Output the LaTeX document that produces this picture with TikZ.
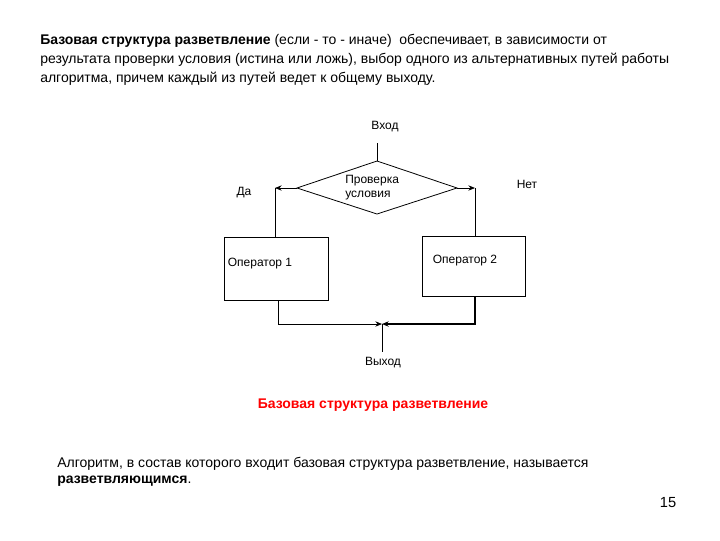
\documentclass[tikz,border=0pt]{standalone}
\usepackage{fontspec}
\setmainfont{Liberation Sans}
\usetikzlibrary{arrows.meta}
\begin{document}
\begin{tikzpicture}[x=0.75pt,y=-0.75pt,
  txt/.style={inner sep=0pt,font=\fontsize{10.5}{12}\selectfont},
  sm/.style={inner sep=0pt,font=\fontsize{9}{10.5}\selectfont},
  box/.style={draw,line width=0.6pt},
  ln/.style={line width=0.6pt},
  arr/.style={ln,-{Stealth[length=5pt,width=4pt]}}]
\useasboundingbox (0,0) rectangle (720,540);
\node[txt,anchor=west] (p1) at (40,41) {\textbf{Базовая структура разветвление} (если - то - иначе)\ \ обеспечивает, в зависимости от};
\node[txt,anchor=west] (p2) at (40,60) {результата проверки условия (истина или ложь), выбор одного из альтернативных путей работы};
\node[txt,anchor=west] (p3) at (40,79) {алгоритма, причем каждый из путей ведет к общему выходу.};
\node[sm] (in) at (385,127) {Вход};
\coordinate (inb) at (377,143);
\coordinate (dt) at (377,161);
\coordinate (db) at (377,214);
\coordinate (dl) at (297,188);
\coordinate (dr) at (457,188);
\draw[ln] (dt) -- (dr) -- (db) -- (dl) -- cycle;
\node[sm,align=left,anchor=west] (cond) at (345,188) {Проверка\\условия};
\draw[ln] (inb) -- (dt);
\coordinate (la) at (275,188);
\coordinate (ra) at (475,188);
\draw[arr] (dl) -- (la);
\draw[arr] (dr) -- (ra);
\node[sm] (yes) at (244,193) {Да};
\node[sm] (no) at (527,184) {Нет};
\draw[box] (224,237) rectangle (328,300);
\node[sm] (op1) at (260,264) {Оператор 1};
\draw[box] (422,236) rectangle (525,296);
\node[sm] (op2) at (465,261) {Оператор 2};
\draw[ln] (275,237) -- (la);
\draw[ln] (475,236) -- (ra);
\coordinate (j) at (382,324);
\draw[arr] (278,300) -- (278,324) -- (j);
\draw[arr,line width=1.2pt] (475,296) -- (475,324) -- (j);
\draw[ln] (j) -- (382,352);
\node[sm] (out) at (383,363) {Выход};
\node[txt,text=red,font=\bfseries\fontsize{10.5}{12}\selectfont] (title) at (373,405) {Базовая структура разветвление};
\node[txt,anchor=west] (b1) at (57,464) {Алгоритм, в состав которого входит базовая структура разветвление, называется};
\node[txt,anchor=west] (b2) at (57,481) {\textbf{разветвляющимся}.};
\node[txt,font=\fontsize{11}{13}\selectfont] (pg) at (668,503) {15};
\end{tikzpicture}
\end{document}
